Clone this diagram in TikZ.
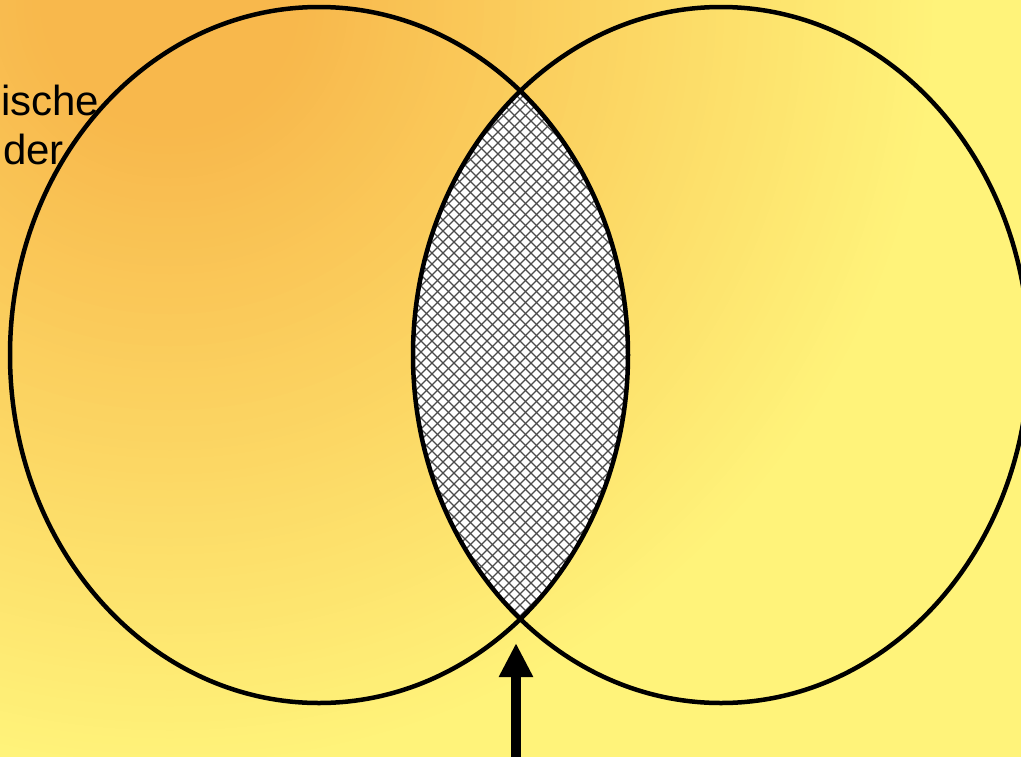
\documentclass[tikz,border=0pt]{standalone}
\usepackage{fontspec}
\setmainfont{Liberation Sans}
\usetikzlibrary{arrows.meta}
\definecolor{bgorange}{RGB}{248,184,76}
\definecolor{bgyellow}{RGB}{255,243,122}
\definecolor{hatchgray}{RGB}{75,75,75}
\tikzset{
  vennline/.style={draw=black, line width=4.5pt},
  hatchline/.style={draw=hatchgray, line width=1.1pt},
  pointer/.style={draw=black, line width=10pt, -{Triangle[length=34pt,width=32pt]}},
  cuttext/.style={font=\fontsize{42}{50}\selectfont, inner sep=0pt, anchor=base west, text=black}
}
\begin{document}
\begin{tikzpicture}[x=1pt,y=-1pt]
\useasboundingbox (0,0) rectangle (1021,756);
\clip (0,0) rectangle (1021,756);
% background: radial gradient from top left
\fill[bgyellow] (0,0) rectangle (1021,756);
\foreach \r in {1210,1202,...,130} {
  \pgfmathtruncatemacro\p{min(100,max(0,(\r-130)/6.4))}
  \fill[bgyellow!\p!bgorange] (170,0) circle (\r pt);
}
% partially hidden text
\node[cuttext] (t1) at (1,115) {ische};
\node[cuttext] (t2) at (3,164) {der};
% hatched intersection
\begin{scope}
  \clip (721,355) ellipse [x radius=308pt, y radius=348pt];
  \clip (319,355) ellipse [x radius=309pt, y radius=348pt];
  \fill[white] (380,60) rectangle (660,660);
  \foreach \a in {-300,-289,...,700} {
    \draw[hatchline] (\a,60) -- (\a+600,660);
  }
  \foreach \a in {350,361,...,1350} {
    \draw[hatchline] (\a,60) -- (\a-600,660);
  }
\end{scope}
% ellipses
\draw[vennline] (319,355) ellipse [x radius=309pt, y radius=348pt];
\draw[vennline] (721,355) ellipse [x radius=308pt, y radius=348pt];
% arrow
\coordinate (arrowstart) at (516,760);
\coordinate (arrowtip) at (516,643);
\draw[pointer] (arrowstart) -- (arrowtip);
\end{tikzpicture}
\end{document}
